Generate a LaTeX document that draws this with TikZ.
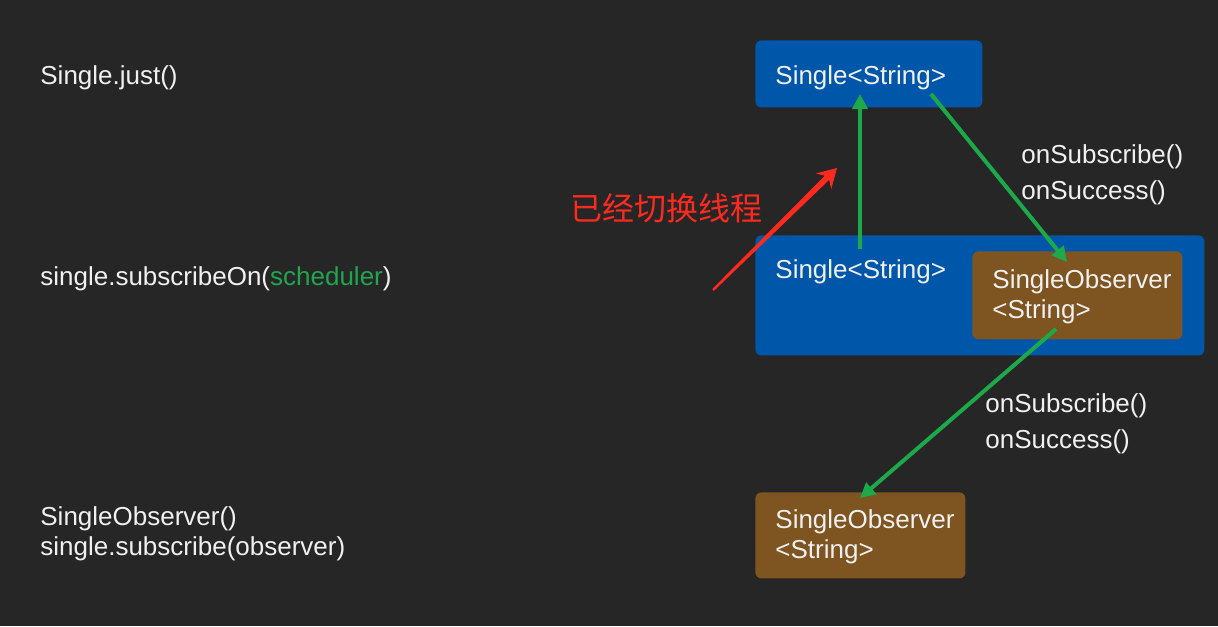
\documentclass[tikz,border=0pt]{standalone}
\usepackage{fontspec}
\setmainfont{Liberation Sans}
\newfontfamily\cjkfont{Noto Sans CJK SC}
\usetikzlibrary{arrows.meta}
\definecolor{bg}{HTML}{262626}
\definecolor{boxblue}{HTML}{0057AA}
\definecolor{boxbrown}{HTML}{7E5420}
\definecolor{arrgreen}{HTML}{1DA84A}
\definecolor{txtgreen}{HTML}{1FA64E}
\definecolor{arrred}{HTML}{FF2A1E}
\definecolor{txt}{HTML}{F0F0F0}
\tikzset{
  bluebox/.style={fill=boxblue, rounded corners=3pt, inner sep=0pt, anchor=north west},
  brownbox/.style={fill=boxbrown, rounded corners=3pt, inner sep=0pt, anchor=north west},
  lbl/.style={text=txt, inner sep=0pt, anchor=base west},
  flow/.style={draw=arrgreen, line width=2pt, -{Triangle[length=7.5pt,width=7.5pt]}},
}
\begin{document}
\begin{tikzpicture}[x=0.5pt,y=-0.5pt, font=\fontsize{13}{15}\selectfont]
\useasboundingbox (0,0) rectangle (1218,626);
\fill[bg] (0,0) rectangle (1218,626);

% left code texts
\node[lbl] (t1) at (40,84) {Single.just()};
\node[lbl] (t2) at (40,285) {single.subscribeOn(\textcolor{txtgreen}{scheduler})};
\node[lbl] (t3) at (40,525) {SingleObserver()};
\node[lbl] (t4) at (40,555) {single.subscribe(observer)};

% boxes
\node[bluebox, minimum width=113.5pt, minimum height=33.5pt] (top) at (755,40) {};
\node[lbl] (toptxt) at (775,84) {Single<String>};

\node[bluebox, minimum width=224.5pt, minimum height=60pt] (mid) at (755,235) {};
\node[lbl] (midtxt) at (775,278) {Single<String>};
\node[brownbox, minimum width=105pt, minimum height=44pt] (inner) at (972,251) {};
\node[lbl] (innertxta) at (992,288) {SingleObserver};
\node[lbl] (innertxtb) at (992,318) {<String>};

\node[brownbox, minimum width=105pt, minimum height=43pt] (bot) at (755,492) {};
\node[lbl] (bottxta) at (775,528) {SingleObserver};
\node[lbl] (bottxtb) at (775,558) {<String>};

% call labels
\node[lbl] (c1a) at (1021,163) {onSubscribe()};
\node[lbl] (c1b) at (1021,199) {onSuccess()};
\node[lbl] (c2a) at (985,412) {onSubscribe()};
\node[lbl] (c2b) at (985,448) {onSuccess()};

% green arrows
\coordinate (upS) at (860,249);
\coordinate (upE) at (860,94);
\coordinate (d1S) at (931,94);
\coordinate (d1E) at (1067,262);
\coordinate (d2S) at (1056,329);
\coordinate (d2E) at (860,498);
\draw[flow] (upS) -- (upE);
\draw[flow] (d1S) -- (d1E);
\draw[flow] (d2S) -- (d2E);

% red annotation
\node[text=arrred, inner sep=0pt, anchor=base west, font=\cjkfont\fontsize{16}{18}\selectfont] (note) at (570,220) {已经切换线程};
\coordinate (rtail) at (713,290);
\coordinate (rtip) at (837,168);
\fill[arrred] (713.8,290.9) -- (829.1,179.9) -- (831.2,189.1) -- (rtip) -- (815.8,173.5) -- (824.9,175.7) -- (712.2,289.1) -- cycle;
\end{tikzpicture}
\end{document}
